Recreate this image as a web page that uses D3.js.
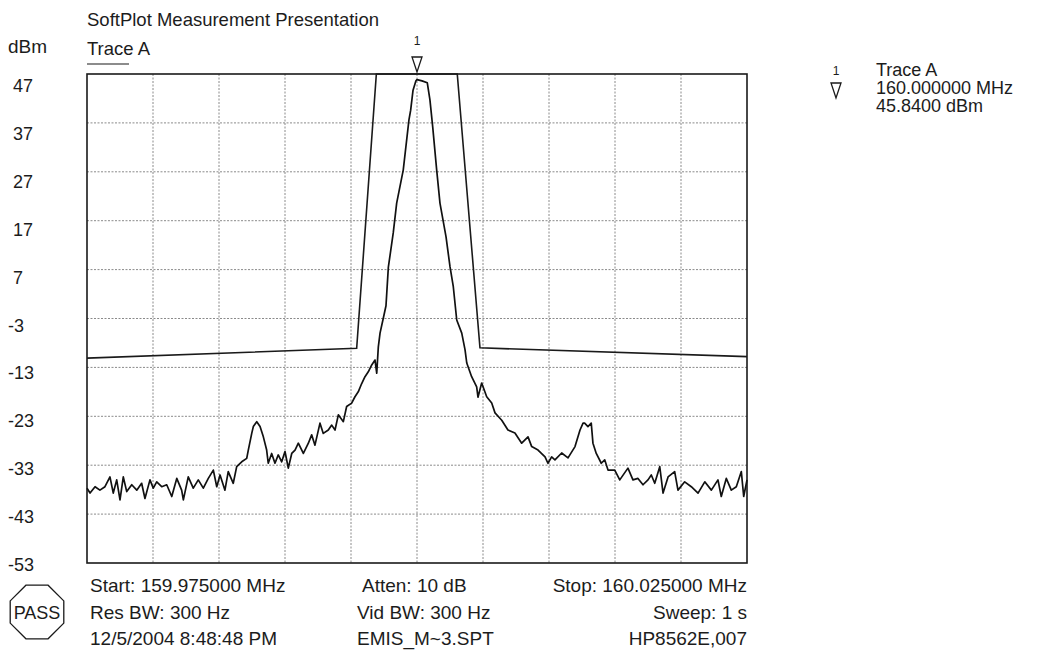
<!DOCTYPE html>
<html>
<head>
<meta charset="utf-8">
<script src="https://cdn.jsdelivr.net/npm/d3@7"></script>
<style>
  body { margin: 0; background: #fff; }
  svg text { font-family: "Liberation Sans", Arial, sans-serif; fill: #1c1c1c; }
</style>
</head>
<body>
<script>
// valores
var centroMHz = 160.0;
var nivelesY = [47, 37, 27, 17, 7, -3, -13, -23, -33, -43, -53];
var divisionesX = [-25, -20, -15, -10, -5, 0, 5, 10, 15, 20, 25]; // kHz desde el centro

// traza A: desplazamiento en kHz y nivel en dBm
var trazaKHz = [-25.00, -24.77, -24.39, -24.02, -23.64, -23.26, -23.01, -22.75, -22.50, -22.25,
  -21.99, -21.61, -21.23, -20.86, -20.61, -20.23, -19.98, -19.72, -19.34, -18.96,
  -18.58, -18.20, -17.83, -17.70, -17.33, -16.95, -16.57, -16.19, -15.81, -15.43,
  -15.17, -14.92, -14.55, -14.30, -13.92, -13.66, -13.28, -12.90, -12.78, -12.52,
  -12.40, -12.14, -11.89, -11.64, -11.39, -11.27, -11.01, -10.76, -10.51, -10.25,
  -10.00, -9.75, -9.49, -9.24, -8.99, -8.61, -8.23, -7.98, -7.73, -7.35,
  -7.10, -6.72, -6.46, -6.21, -5.96, -5.58, -5.33, -4.95, -4.70, -4.45,
  -4.19, -3.94, -3.69, -3.43, -3.18, -3.05, -2.93, -2.80, -2.55, -2.35,
  -2.17, -1.80, -1.54, -1.04, -0.61, -0.48, -0.30, -0.08, 0.00, 0.38,
  0.78, 0.98, 1.19, 1.49, 1.74, 2.20, 2.50, 2.75, 3.01, 3.39,
  3.64, 3.77, 4.14, 4.52, 4.62, 4.90, 5.28, 5.66, 5.91, 6.42,
  6.89, 7.42, 7.93, 8.41, 8.69, 9.17, 9.70, 9.92, 10.20, 10.45,
  10.96, 11.44, 11.97, 12.35, 12.58, 12.70, 12.95, 13.20, 13.33, 13.58,
  13.96, 14.22, 14.47, 14.98, 15.36, 15.98, 16.36, 16.74, 17.12, 17.50,
  17.75, 18.01, 18.39, 18.64, 19.02, 19.52, 19.77, 20.28, 20.78, 21.29,
  21.80, 22.30, 22.80, 23.05, 23.43, 23.81, 24.19, 24.57, 24.75, 25.00];
var trazaDbm = [-37.7, -38.7, -37.4, -38.1, -37.4, -35.4, -38.7, -36.0, -40.1, -35.4,
  -38.4, -37.0, -38.1, -36.7, -39.8, -36.0, -37.7, -36.4, -37.4, -37.0,
  -39.4, -35.7, -38.1, -40.1, -35.4, -37.7, -36.0, -37.7, -35.7, -34.0,
  -37.4, -35.0, -38.1, -34.3, -36.7, -33.3, -32.3, -31.6, -29.9, -26.5,
  -25.1, -24.1, -25.1, -27.2, -29.9, -32.6, -30.6, -32.6, -30.9, -32.3,
  -30.2, -33.6, -30.6, -29.9, -28.5, -30.6, -28.5, -26.8, -28.9, -24.4,
  -26.5, -25.8, -24.8, -25.8, -22.7, -24.1, -21.0, -20.3, -19.0, -18.0,
  -16.3, -14.9, -13.9, -12.5, -11.5, -14.2, -8.8, -6.0, -2.9, -0.4,
  7.5, 14.5, 20.6, 27.4, 37.6, 39.6, 43.7, 45.6, 45.84, 45.6,
  45.2, 41.7, 36.2, 27.4, 20.6, 13.7, 7.6, 3.5, -3.3, -6.0,
  -9.4, -12.1, -14.9, -17.0, -19.1, -16.2, -19.0, -20.3, -22.3, -23.8,
  -25.8, -26.4, -28.5, -27.2, -29.2, -29.9, -31.3, -32.6, -31.3, -31.9,
  -30.5, -31.5, -29.2, -25.8, -24.4, -24.4, -25.1, -24.4, -28.5, -30.6,
  -32.6, -31.9, -34.0, -34.0, -36.0, -33.6, -36.0, -35.7, -37.0, -36.0,
  -35.0, -36.7, -33.3, -38.7, -35.4, -34.3, -38.1, -36.4, -37.4, -38.7,
  -36.4, -38.1, -36.0, -39.4, -35.7, -38.1, -37.4, -34.3, -39.4, -36.0];

// linea limite
var limiteKHz = [-25, -4.57, -3.08, 3.05, 4.77, 25];
var limiteDbm = [-11.1, -9.1, 47, 47, -9.0, -10.8];

// marcador
var marcadorKHz = 0;
var marcadorDbm = 45.84;
var marcadorTexto = ["Trace A", "160.000000 MHz", "45.8400 dBm"];

var titulo = "SoftPlot Measurement Presentation";
var pieIzq = ["Start: 159.975000 MHz", "Res BW: 300 Hz", "12/5/2004 8:48:48 PM"];
var pieCentro = ["Atten: 10 dB", "Vid BW: 300 Hz", "EMIS_M~3.SPT"];
var pieDer = ["Stop: 160.025000 MHz", "Sweep: 1 s", "HP8562E,007"];

var w = 1038, h = 658;
var margin = { top: 74, left: 87, right: 291, bottom: 95 };

var svg = d3.select("body").append("svg")
    .attr("width", w).attr("height", h);

var x = d3.scaleLinear().domain([-25, 25]).range([margin.left, w - margin.right]);
var y = d3.scaleLinear().domain([-53, 47]).range([h - margin.bottom, margin.top]);
// las etiquetas del eje quedan algo por debajo de las lineas
var yEtiqueta = d3.scaleLinear().domain([-53, 47]).range([571, 92]);

// rejilla punteada
svg.append("g").selectAll("line").data(divisionesX.slice(1, -1)).enter()
    .append("line")
    .attr("x1", function (d) { return x(d); }).attr("x2", function (d) { return x(d); })
    .attr("y1", y(47)).attr("y2", y(-53))
    .attr("stroke", "#8a8a8a").attr("stroke-width", 1).attr("stroke-dasharray", "2,1.5");
svg.append("g").selectAll("line").data(nivelesY.slice(1, -1)).enter()
    .append("line")
    .attr("y1", function (d) { return y(d); }).attr("y2", function (d) { return y(d); })
    .attr("x1", x(-25)).attr("x2", x(25))
    .attr("stroke", "#8a8a8a").attr("stroke-width", 1).attr("stroke-dasharray", "2,1.5");

// marco
svg.append("rect")
    .attr("x", x(-25)).attr("y", y(47))
    .attr("width", x(25) - x(-25)).attr("height", y(-53) - y(47))
    .attr("fill", "none").attr("stroke", "#1a1a1a").attr("stroke-width", 1.6);

// etiquetas eje Y
svg.append("g").selectAll("text").data(nivelesY).enter()
    .append("text")
    .attr("x", function (d) { return d < 0 ? 8 : 13; })
    .attr("y", function (d) { return yEtiqueta(d); })
    .attr("font-size", 18)
    .text(function (d) { return d; });

svg.append("text").attr("x", 8).attr("y", 53).attr("font-size", 19).text("dBm");
svg.append("text").attr("x", 87).attr("y", 26).attr("font-size", 18.5).text(titulo);
svg.append("text").attr("x", 87).attr("y", 55).attr("font-size", 18.5).text("Trace A");
svg.append("line").attr("x1", 87).attr("x2", 129).attr("y1", 64).attr("y2", 64)
    .attr("stroke", "#1a1a1a").attr("stroke-width", 1.2);

var linea = d3.line()
    .x(function (d) { return x(d[0]); })
    .y(function (d) { return y(d[1]); });

// linea limite
svg.append("path")
    .datum(d3.zip(limiteKHz, limiteDbm))
    .attr("d", linea)
    .attr("fill", "none").attr("stroke", "#1a1a1a").attr("stroke-width", 1.6);

// traza
svg.append("path")
    .datum(d3.zip(trazaKHz, trazaDbm))
    .attr("d", linea)
    .attr("fill", "none").attr("stroke", "#111").attr("stroke-width", 1.7)
    .attr("stroke-linejoin", "round");

// marcador sobre la traza
var mx = x(marcadorKHz);
var my = y(47) - 2;
svg.append("path")
    .attr("d", "M" + (mx - 5) + "," + (my - 15) + "L" + (mx + 5) + "," + (my - 15) + "L" + mx + "," + my + "Z")
    .attr("fill", "#fff").attr("stroke", "#1a1a1a").attr("stroke-width", 1.3);
svg.append("text").attr("x", mx).attr("y", 45).attr("text-anchor", "middle")
    .attr("font-size", 12).text("1");

// leyenda del marcador
svg.append("text").attr("x", 836).attr("y", 75).attr("text-anchor", "middle")
    .attr("font-size", 12).text("1");
svg.append("path")
    .attr("d", "M831,83L841,83L836,98Z")
    .attr("fill", "#fff").attr("stroke", "#1a1a1a").attr("stroke-width", 1.3);
svg.append("g").selectAll("text").data(marcadorTexto).enter()
    .append("text")
    .attr("x", 876)
    .attr("y", function (d, i) { return 76 + i * 18; })
    .attr("font-size", 18)
    .text(function (d) { return d; });

// pie
var filasY = [592, 619, 645];
svg.append("g").selectAll("text").data(pieIzq).enter()
    .append("text").attr("x", 90).attr("y", function (d, i) { return filasY[i]; })
    .attr("font-size", 19).text(function (d) { return d; });
svg.append("g").selectAll("text").data(pieCentro).enter()
    .append("text").attr("x", function (d, i) { return i == 0 ? 362 : 357; })
    .attr("y", function (d, i) { return filasY[i]; })
    .attr("font-size", 19).text(function (d) { return d; });
svg.append("g").selectAll("text").data(pieDer).enter()
    .append("text").attr("x", 747).attr("text-anchor", "end")
    .attr("y", function (d, i) { return filasY[i]; })
    .attr("font-size", 19).text(function (d) { return d; });

// octogono PASS
var cx = 37, cy = 612, r = 29;
var octo = d3.range(8).map(function (i) {
    var a = Math.PI / 8 + i * Math.PI / 4;
    return [cx + r * Math.cos(a), cy + r * Math.sin(a)];
});
svg.append("path")
    .attr("d", "M" + octo.join("L") + "Z")
    .attr("fill", "none").attr("stroke", "#1a1a1a").attr("stroke-width", 1.3);
svg.append("text").attr("x", cx).attr("y", cy + 7).attr("text-anchor", "middle")
    .attr("font-size", 18).text("PASS");
</script>
</body>
</html>
